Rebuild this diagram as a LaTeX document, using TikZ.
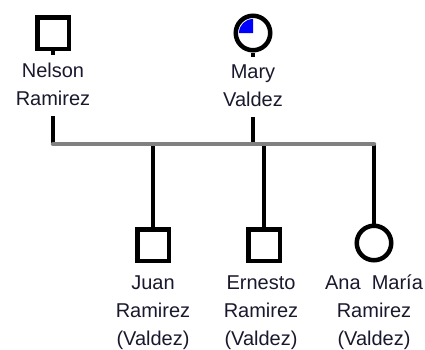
\documentclass[tikz,border=0pt]{standalone}
\usepackage{fontspec}
\setmainfont{Liberation Sans}
\usetikzlibrary{positioning}
\definecolor{lbltext}{rgb}{0.1,0.1,0.18}
\definecolor{bargray}{rgb}{0.5,0.5,0.5}

\begin{document}
\begin{tikzpicture}[x=1pt,y=-1pt,
   male/.style={draw,line width=4.5pt,minimum size=31.5pt,inner sep=0pt},
   female/.style={draw,circle,line width=4.5pt,minimum size=34.5pt,inner sep=0pt},
   pname/.style={align=center,inner sep=0pt,text=lbltext,
                font=\fontsize{20}{28}\selectfont},
   kin/.style={line width=4.5pt},
   sib/.style={line width=4.5pt,bargray,line cap=round}]
   \useasboundingbox (0,0) rectangle (425,349);
   \node[  male] (nelson)  at ( 53, 33) {};
   \node[female] (mary)    at (253, 33) {};
   \node[  male] (juan)    at (153,245) {};
   \node[  male] (ernesto) at (264,245) {};
   \node[female] (ana)     at (374,243) {};
   \fill[blue] (mary.center) -- ++(-14,0) arc[start angle=180,end angle=270,radius=14] -- cycle;
   \node[pname,below=12pt of nelson]              (nelsonname)  {Nelson\\Ramirez};
   \node[pname,below=12pt of mary]                (maryname)    {Mary\\Valdez};
   \node[pname,below=13pt of juan]                (juanname)    {Juan\\Ramirez\\(Valdez)};
   \node[pname,below=13pt of ernesto,xshift=-3pt] (ernestoname) {Ernesto\\Ramirez\\(Valdez)};
   \node[pname,below=12pt of ana]                 (ananame)     {Ana~~María\\Ramirez\\(Valdez)};
   \coordinate (barleft)  at ( 53,144);
   \coordinate (barright) at (374,144);
   \draw[kin] (nelson.south) -- ++(0,4);
   \draw[kin] (mary.south)   -- ++(0,4);
   \draw[kin] ([yshift=-10pt]nelsonname.south) -- (nelsonname.south |- barleft);
   \draw[kin] ([yshift=-10pt]maryname.south)   -- (maryname.south   |- barleft);
   \draw[kin] (juan    |- barleft) -- (juan.north);
   \draw[kin] (ernesto |- barleft) -- (ernesto.north);
   \draw[kin] (ana     |- barleft) -- (ana.north);
   \draw[sib] (barleft) -- (barright);
\end{tikzpicture}
\end{document}
